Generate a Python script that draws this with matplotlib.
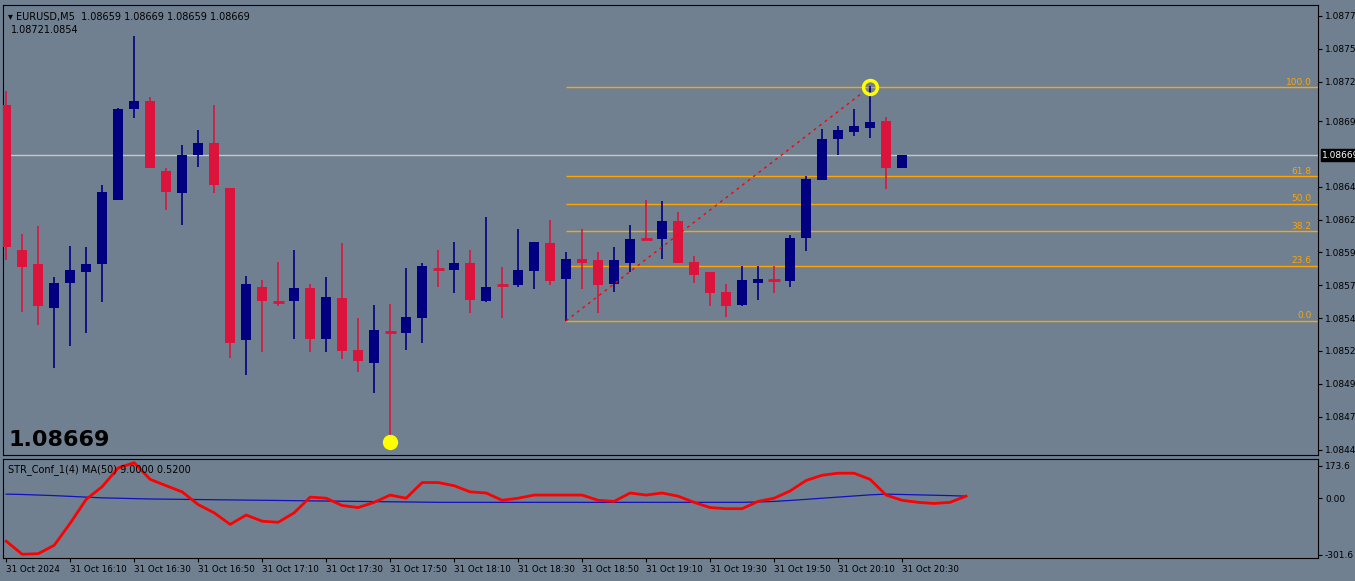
import matplotlib
matplotlib.use("Agg")
import matplotlib.pyplot as plt
import numpy as np

# prices in 1e-5 units above 1.08000
opens  = [707,597,586,553,572,580,586,635,704,710,657,640,669,678,644,528,569,558,558,568,529,560,521,511,535,534,545,583,582,587,
          558,571,570,581,602,575,590,589,571,587,606,605,619,588,580,565,555,572,574,573,606,650,681,687,690,695,659]
highs  = [718,609,615,576,600,599,646,705,760,713,659,677,688,707,644,577,574,588,597,571,576,602,545,555,556,583,587,597,603,597,
          622,584,613,603,620,595,613,595,599,616,635,634,626,592,580,571,585,585,585,608,653,689,691,704,722,698,669]
lows   = [589,550,540,507,524,534,557,635,697,659,627,616,660,640,515,502,519,554,529,519,519,514,504,488,450,521,526,569,564,549,
          557,545,569,567,570,543,567,549,565,580,605,590,587,572,554,546,554,559,564,569,596,650,669,684,682,643,659]
closes = [599,584,554,572,582,586,641,704,710,659,641,669,678,646,526,571,558,557,568,529,561,520,512,536,534,546,585,582,587,559,
          569,570,582,603,573,590,587,570,589,605,605,619,587,578,564,554,574,575,574,606,651,681,688,691,694,659,669]
time_labels = ["31 Oct 2024","31 Oct 16:10","31 Oct 16:30","31 Oct 16:50","31 Oct 17:10","31 Oct 17:30","31 Oct 17:50",
               "31 Oct 18:10","31 Oct 18:30","31 Oct 18:50","31 Oct 19:10","31 Oct 19:30","31 Oct 19:50","31 Oct 20:10","31 Oct 20:30"]
price_ticks = [1.08775,1.08750,1.08725,1.08695,1.08645,1.08620,1.08595,1.08570,1.08545,1.08520,1.08495,1.08470,1.08445]
current = 1.08669
fib_low, fib_high = 1.08543, 1.08721
fib_levels = [0.0, 23.6, 38.2, 50.0, 61.8, 100.0]
str_red = [-230,-300,-297,-252,-134,-6,62,162,190,101,67,34,-34,-78,-140,-90,-123,-129,-78,6,0,-39,-50,-22,17,0,84,84,67,34,
           28,-11,0,17,17,17,17,-11,-17,28,17,28,11,-22,-50,-56,-56,-17,0,39,95,123,134,134,101,17,-11,-22,-28,-22,11]
str_blue = [22,20,17,14,10,6,2,0,-2,-4,-5,-6,-7,-8,-9,-10,-11,-12,-13,-14,-15,-16,-17,-18,-19,-20,-21,-22,-22,-22,
            -22,-22,-22,-22,-22,-22,-22,-22,-22,-22,-22,-22,-22,-22,-22,-22,-22,-20,-17,-12,-6,0,6,12,18,22,20,18,16,14,11]

BG = "#708090"
UP, DN = "#000080", "#DC143C"
fig = plt.figure(figsize=(13.55, 5.81), dpi=100, facecolor=BG)
W, H = 1355, 581
ax = fig.add_axes([3/W, 1-455/H, 1315/W, 450/H], facecolor=BG)
ax2 = fig.add_axes([3/W, 1-558/H, 1315/W, 99/H], facecolor=BG, sharex=ax)

def p(v): return 1.08 + np.array(v) / 1e5
O, Hh, L, C = p(opens), p(highs), p(lows), p(closes)
xs = np.arange(len(O))
for i in xs:
    col = UP if C[i] > O[i] else DN
    ax.vlines(i, L[i], Hh[i], color=col, lw=1.2, zorder=3)
    lo, hi = min(O[i], C[i]), max(O[i], C[i])
    if hi - lo < 0.000015:
        ax.hlines((O[i]+C[i])/2, i-0.35, i+0.35, color=col, lw=2, zorder=3)
    else:
        ax.bar(i, hi-lo, bottom=lo, width=0.62, color=col, zorder=3)

xmin, xmax = -0.2, 82
ax.set_xlim(xmin, xmax)
ax.set_ylim(1.08445 - 0.0000418, 1.08775 + 0.0000836)
ax.axhline(current, color="#c8c8c8", lw=1, zorder=2)
# fibonacci
fx0, fx1 = 35, 54
for lv in fib_levels:
    y = fib_low + (fib_high - fib_low) * lv / 100
    ax.hlines(y, fx0, xmax, color="orange", lw=1, zorder=2)
    ax.text(81.6, y + 0.000003, f"{lv:.1f}", color="orange", fontsize=6.5, ha="right", va="bottom")
ax.plot([fx0, fx1], [fib_low, fib_high], color="red", ls=(0, (2, 3)), lw=1, zorder=4)
ax.plot([24], [lows[24]/1e5 + 1.08 + 0.00001], "o", ms=10, mfc="yellow", mec="yellow", zorder=5)
ax.plot([54], [fib_high], "o", ms=10, mfc="none", mec="yellow", mew=2.5, zorder=5)

ax.yaxis.tick_right()
ax.set_yticks(price_ticks)
ax.set_yticklabels([f"{t:.5f}" for t in price_ticks], fontsize=6.5)
ax.tick_params(axis="y", length=3, pad=2, colors="black")
ax.text(1.003, current, f"{current:.5f}", transform=ax.get_yaxis_transform(), fontsize=6.5, color="white",
        va="center", ha="left", bbox=dict(boxstyle="square,pad=0.15", fc="black", ec="black"))
ax.tick_params(axis="x", bottom=False, labelbottom=False)
ax.text(0.004, 0.985, "▾ EURUSD,M5  1.08659 1.08669 1.08659 1.08669", transform=ax.transAxes, fontsize=7, va="top")
ax.text(0.006, 0.955, "1.08721.0854", transform=ax.transAxes, fontsize=7, va="top")
ax.text(0.004, 0.01, f"{current:.5f}", transform=ax.transAxes, fontsize=16, fontweight="bold", va="bottom")

# indicator
xi = np.arange(len(str_red))
ax2.plot(xi, str_blue, color="#1010c0", lw=0.9)
ax2.plot(xi, str_red, color="red", lw=2)
ax2.set_ylim(-320, 210)
ax2.yaxis.tick_right()
ax2.set_yticks([173.6, 0, -301.6])
ax2.set_yticklabels(["173.6", "0.00", "-301.6"], fontsize=6.5)
ax2.tick_params(axis="y", length=3, pad=2)
ax2.text(0.004, 0.95, "STR_Conf_1(4) MA(50) 9.0000 0.5200", transform=ax2.transAxes, fontsize=7, va="top")
ticks = np.arange(0, 4*len(time_labels), 4)
ax2.set_xticks(ticks)
ax2.set_xticklabels(time_labels, fontsize=6.3, ha="left")
ax2.tick_params(axis="x", length=3, pad=2)
for a in (ax, ax2):
    for s in a.spines.values():
        s.set_color("black")
fig.savefig("out.png", dpi=100, facecolor=BG)
